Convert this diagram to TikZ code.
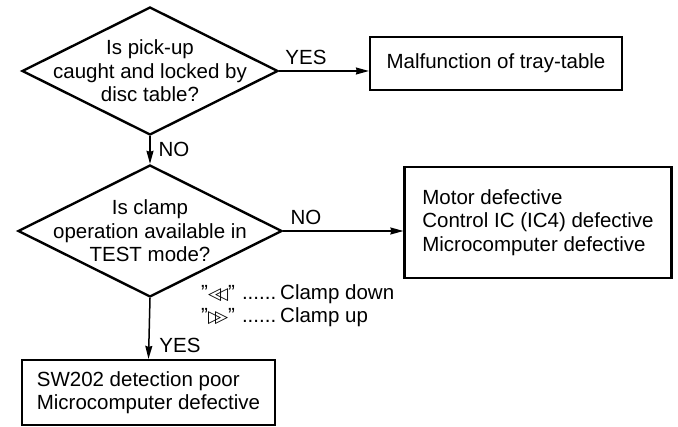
\documentclass[tikz,border=0pt]{standalone}
\usepackage{fontspec}
\setmainfont{Liberation Sans}
\newfontfamily\symfont{DejaVu Sans}
\usetikzlibrary{shapes.geometric,arrows.meta}
\newcommand{\rewkey}{{\symfont\fontsize{17}{17}\selectfont ◁\kern-0.35em◁}}
\newcommand{\ffkey}{{\symfont\fontsize{17}{17}\selectfont ▷\kern-0.35em▷}}
\begin{document}
\begin{tikzpicture}[
    x=1pt, y=-1pt,
    font=\fontsize{20.5}{23.5}\selectfont,
    decision/.style={diamond, draw, line width=2.4pt, inner sep=0pt, minimum width=#1},
    question/.style={align=center, inner sep=0pt},
    box/.style={rectangle, draw, line width=2.2pt, align=left},
    answer/.style={inner sep=0pt},
    arrow/.style={-{Stealth[length=13pt,width=7pt,inset=1pt]}, line width=1.5pt},
]
\useasboundingbox (0,0) rectangle (678,427);

% Decisions
\node[decision=256pt, minimum height=128pt] (pickup) at (150,71) {};
\node[question] (pickuptext) at (pickup.center) {Is pick-up\\caught and locked by\\disc table?};
\node[decision=264pt, minimum height=132pt] (clamp) at (150,231) {};
\node[question] (clamptext) at (clamp.center) {Is clamp\\operation available in\\TEST mode?};

% Results
\node[box, minimum width=252pt, minimum height=53pt] (tray) at (496,63.5) {Malfunction of tray-table};
\node[box, minimum width=267pt, minimum height=111pt] (motor) at (538,222.5) {Motor defective\\Control IC (IC4) defective\\Microcomputer defective};
\node[box, minimum width=253pt, minimum height=65pt] (sw) at (148.5,392.5) {SW202 detection poor\\Microcomputer defective};

% Key note
\node[anchor=west, align=left, inner sep=0pt, font=\fontsize{20.5}{23}\selectfont] (keys) at (201,306) {"\rewkey"\hspace{7pt}......\hspace{4pt}Clamp down\\"\ffkey"\hspace{7pt}......\hspace{4pt}Clamp up};

\draw[arrow] (pickup.east) -- (pickup.east -| tray.west);
\draw[arrow] (pickup.south) -- (clamp.north);
\draw[arrow] (clamp.east) -- (clamp.east -| motor.west);
\draw[arrow] (clamp.south) -- (sw.north);

% Answers
\node[answer] (yes1) at (306,57) {YES};
\node[answer] (no1) at (174,149) {NO};
\node[answer] (no2) at (306,217) {NO};
\node[answer] (yes2) at (180,345) {YES};

\end{tikzpicture}
\end{document}
